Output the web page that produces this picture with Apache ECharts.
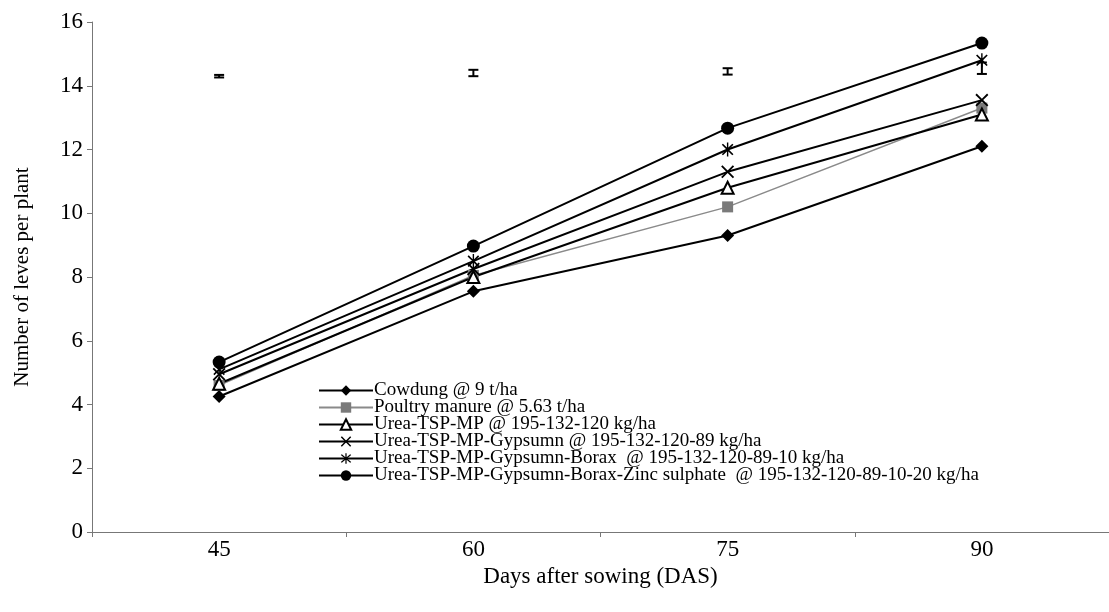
<!DOCTYPE html>
<html>
<head>
<meta charset="utf-8">
<script src="https://cdn.jsdelivr.net/npm/echarts@6/dist/echarts.min.js"></script>
<style>
  html, body { margin: 0; padding: 0; background: #fff; }
  #chart { width: 1109px; height: 612px; }
</style>
</head>
<body>
<div id="chart"></div>
<script>
const days = ['45', '60', '75', '90']
const cowdung = [4.25, 7.55, 9.3, 12.1]
const poultry = [4.6, 8.05, 10.2, 13.3]
const ureaTspMp = [4.65, 8.0, 10.8, 13.1]
const gypsum = [4.95, 8.25, 11.3, 13.55]
const borax = [5.1, 8.5, 12.0, 14.8]
const zinc = [5.33, 8.97, 12.67, 15.34]
// LSD bars drawn at the top
const errCenter = [14.3, 14.4, 14.45, 14.55]
const errHalf = [0.04, 0.1, 0.1, 0.18]

const names = [
  'Cowdung @ 9 t/ha',
  'Poultry manure @ 5.63 t/ha',
  'Urea-TSP-MP @ 195-132-120 kg/ha',
  'Urea-TSP-MP-Gypsumn @ 195-132-120-89 kg/ha',
  'Urea-TSP-MP-Gypsumn-Borax  @ 195-132-120-89-10 kg/ha',
  'Urea-TSP-MP-Gypsumn-Borax-Zinc sulphate  @ 195-132-120-89-10-20 kg/ha'
]

const xPath = 'path://M1,0L5,4L9,0L10,1L6,5L10,9L9,10L5,6L1,10L0,9L4,5L0,1Z'
const starPath = 'path://M1,0L5,4L9,0L10,1L6,5L10,9L9,10L5,6L1,10L0,9L4,5L0,1Z M4.4,-1L5.6,-1L5.6,11L4.4,11Z'
const font = 'Liberation Serif'

const chart = echarts.init(document.getElementById('chart'))

function lineSeries (name, data, symbol, size, extra) {
  return Object.assign({
    name: name,
    type: 'line',
    data: data,
    symbol: symbol,
    symbolSize: size,
    symbolKeepAspect: true,
    lineStyle: { color: '#000', width: 2 },
    itemStyle: { color: '#000' }
  }, extra || {})
}

const option = {
  animation: false,
  backgroundColor: '#fff',
  textStyle: { fontFamily: font },
  grid: {
    left: 92,
    top: 22,
    width: 1028,
    bottom: 80
  },
  legend: {
    orient: 'vertical',
    left: 313,
    top: 376,
    itemWidth: 54,
    itemHeight: 13,
    itemGap: -2,
    data: names,
    textStyle: { fontFamily: font, fontSize: 19, color: '#000', lineHeight: 14, padding: [0, 0, 0, -4] }
  },
  xAxis: {
    type: 'category',
    data: days,
    boundaryGap: true,
    name: 'Days after sowing (DAS)',
    nameLocation: 'middle',
    nameGap: 30,
    nameTextStyle: { fontFamily: font, fontSize: 23, color: '#000' },
    axisLine: { lineStyle: { color: '#777', width: 1 } },
    axisTick: { show: true, length: 5, lineStyle: { color: '#777' } },
    axisLabel: { fontFamily: font, fontSize: 23, color: '#000', margin: 6 },
    splitLine: { show: false }
  },
  yAxis: {
    type: 'value',
    min: 0,
    max: 16,
    interval: 2,
    name: 'Number of leves per plant',
    nameLocation: 'middle',
    nameGap: 59,
    nameTextStyle: { fontFamily: font, fontSize: 21, color: '#000' },
    axisLine: { show: true, lineStyle: { color: '#777', width: 1 } },
    axisTick: { show: true, length: 5, lineStyle: { color: '#777' } },
    axisLabel: { fontFamily: font, fontSize: 23, color: '#000', margin: 9 },
    splitLine: { show: false }
  },
  series: [
    lineSeries(names[0], cowdung, 'diamond', 13),
    lineSeries(names[1], poultry, 'rect', 11, {
      lineStyle: { color: '#8a8a8a', width: 1.5 },
      itemStyle: { color: '#7a7a7a' }
    }),
    lineSeries(names[2], ureaTspMp, 'triangle', 12, {
      itemStyle: { color: '#fff', borderColor: '#000', borderWidth: 2 }
    }),
    lineSeries(names[3], gypsum, xPath, 13),
    lineSeries(names[4], borax, starPath, 14),
    lineSeries(names[5], zinc, 'circle', 13),
    {
      name: 'LSD',
      type: 'custom',
      data: errCenter.map((c, i) => [i, c - errHalf[i], c + errHalf[i]]),
      renderItem: function (params, api) {
        const lo = api.coord([api.value(0), api.value(1)])
        const hi = api.coord([api.value(0), api.value(2)])
        const w = 5
        return {
          type: 'group',
          children: [
            { type: 'line', shape: { x1: lo[0], y1: lo[1], x2: hi[0], y2: hi[1] }, style: { stroke: '#000', lineWidth: 2 } },
            { type: 'line', shape: { x1: lo[0] - w, y1: lo[1], x2: lo[0] + w, y2: lo[1] }, style: { stroke: '#000', lineWidth: 2 } },
            { type: 'line', shape: { x1: hi[0] - w, y1: hi[1], x2: hi[0] + w, y2: hi[1] }, style: { stroke: '#000', lineWidth: 2 } }
          ]
        }
      }
    }
  ]
}

option && chart.setOption(option)
</script>
</body>
</html>
